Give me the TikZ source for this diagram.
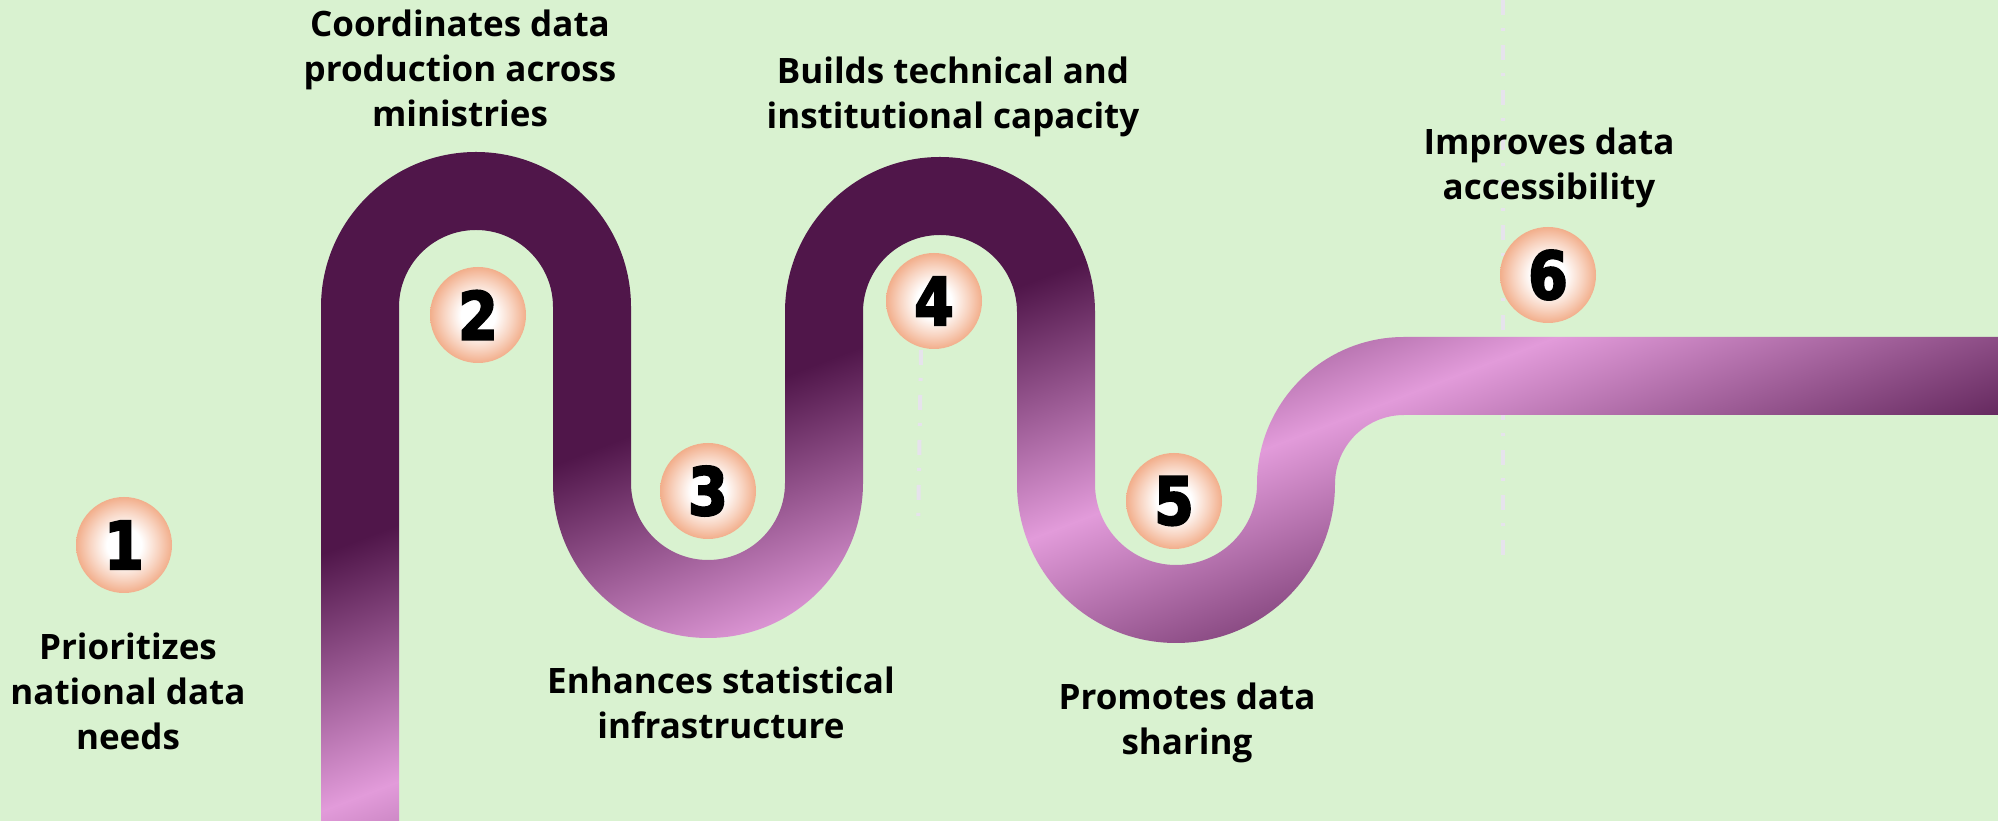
\documentclass[tikz,border=0pt]{standalone}
\usepackage{fontspec}
\setmainfont{Open Sans}
\newfontfamily\numfont[FakeStretch=0.86,FakeBold=3.2]{DejaVu Sans}
\definecolor{bgcol}{HTML}{D9F2D0}
\definecolor{pdark}{HTML}{50164A}
\definecolor{ppink}{HTML}{E29BDA}
\definecolor{peach}{HTML}{F2AE8B}
\definecolor{peachlight}{HTML}{F8D3C0}
\definecolor{guide}{HTML}{E6E3EC}
\pgfdeclareverticalshading{pipeshade}{3000bp}{%
  color(0bp)=(pdark); color(730bp)=(pdark); color(1000bp)=(ppink);
  color(1240bp)=(pdark); color(2000bp)=(pdark)}
\pgfdeclareradialshading{stopshade}{\pgfpoint{0bp}{0bp}}{%
  color(0bp)=(white); color(9bp)=(white); color(18bp)=(peachlight);
  color(25bp)=(peach); color(50bp)=(peach)}
\tikzset{%
  every stop/.style={
    circle,
    inner sep=0pt,
    minimum size=96bp,
    shading=stopshade,
    font=\numfont\bfseries\fontsize{66bp}{66bp}\selectfont
  },
  stop label/.style={
    align=center,
    font=\bfseries\fontsize{35bp}{45bp}\selectfont
  },
  guide line/.style={
    draw=guide,
    line width=4bp,
    dash pattern=on 15bp off 13bp on 3bp off 14bp
  },
}

\begin{document}
\begin{tikzpicture}[x=1bp, y=1bp]

\fill[bgcol] (0,0) rectangle (1998,821);
\useasboundingbox (0,0) rectangle (1998,821);

% guide lines behind the road
\coordinate (guide-a-top) at (921,471);
\coordinate (guide-a-bottom) at (918,291);
\coordinate (guide-b-top) at (1503,821);
\coordinate (guide-b-bottom) at (1503,261);
\draw[guide line] (guide-a-top) -- (guide-a-bottom);
\draw[guide line] (guide-b-top) -- (guide-b-bottom);

% the winding road
\begin{scope}
  \clip (321,-2) -- (321,514) arc[start angle=180, end angle=0, radius=155bp]
    -- (631,338) arc[start angle=180, end angle=360, radius=77bp]
    -- (785,509) arc[start angle=180, end angle=0, radius=155bp]
    -- (1095,337) arc[start angle=180, end angle=360, radius=81bp]
    -- (1257,337) arc[start angle=180, end angle=90, radius=147bp]
    -- (2000,484) -- (2000,406) -- (1404,406)
    arc[start angle=90, end angle=180, radius=69bp]
    -- (1335,337) arc[start angle=0, end angle=-180, radius=159bp]
    -- (1017,509) arc[start angle=0, end angle=180, radius=77bp]
    -- (863,338) arc[start angle=0, end angle=-180, radius=155bp]
    -- (553,514) arc[start angle=0, end angle=180, radius=77bp]
    -- (399,-2) -- cycle;
  \node[inner sep=0pt, rotate=21] (road) at (900,232) {\pgfuseshading{pipeshade}};
\end{scope}

\foreach \n/\x/\y in {1/124/276, 2/478/506, 3/708/330, 4/934/520, 5/1174/320, 6/1548/546}
  \node[every stop] (stop-\n) at (\x,\y) {\n};

\foreach \n/\x/\y/\t in {%
    1/128/130/{Prioritizes\\national data\\needs},
    2/460/753/{Coordinates data\\production across\\ministries},
    3/721/118/{Enhances statistical\\infrastructure},
    4/953/724/{Builds technical and\\institutional capacity},
    5/1187/98/{Promotes data\\sharing},
    6/1549/653/{Improves data\\accessibility}}
  \node[stop label] (label-\n) at (\x,\y) {\t};

\end{tikzpicture}
\end{document}
